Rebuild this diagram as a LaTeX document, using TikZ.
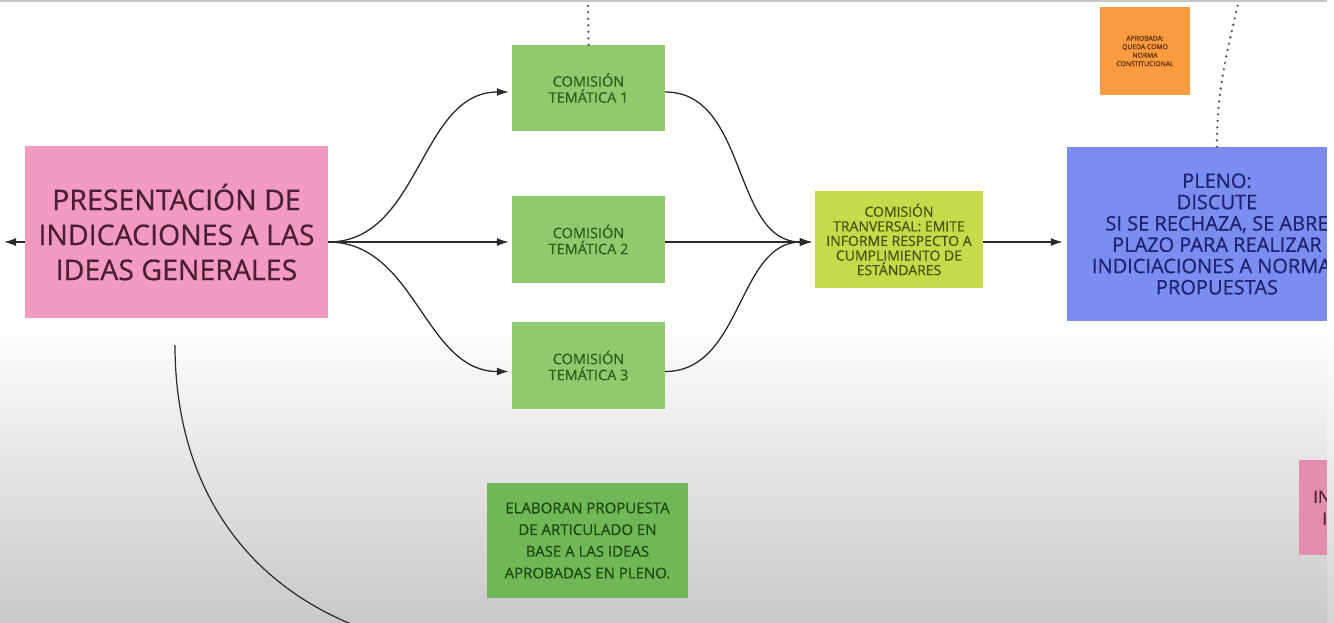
\documentclass[tikz,border=0pt]{standalone}
\usepackage{fontspec}
\setmainfont{Open Sans}[FakeBold=0.6]
\usetikzlibrary{arrows.meta}
\definecolor{pinkbox}{HTML}{F29AC0}
\definecolor{pinktext}{HTML}{4A1F33}
\definecolor{greenbox}{HTML}{8FCB6E}
\definecolor{greentext}{HTML}{2F5E1B}
\definecolor{limebox}{HTML}{C8D94A}
\definecolor{limetext}{HTML}{4A5212}
\definecolor{bluebox}{HTML}{7C8DF0}
\definecolor{bluetext}{HTML}{1C2370}
\definecolor{orangebox}{HTML}{FA9B40}
\definecolor{orangetext}{HTML}{5A3010}
\definecolor{dgreenbox}{HTML}{6FB757}
\definecolor{dgreentext}{HTML}{1E4A12}
\definecolor{pink2box}{HTML}{E48DB1}
\definecolor{bggray}{HTML}{C9C9C9}
\definecolor{linecol}{HTML}{2A2A2A}
\tikzset{
  card/.style={rectangle, inner sep=0pt, align=center},
  conn/.style={draw=linecol, line width=1.3pt, -{Latex[length=12pt,width=8pt]}},
  dotline/.style={line width=2.6pt, line cap=round, dash pattern=on 0pt off 6.5pt, gray!70!black},
}
\begin{document}
\begin{tikzpicture}[x=1pt,y=-1pt]
\useasboundingbox (0,0) rectangle (1334,622);
\fill[white] (0,0) rectangle (1334,622);
\shade[top color=white, bottom color=bggray] (0,320) rectangle (1334,622);
\draw[gray!45, line width=2pt] (0,1) -- (1334,1);

% boxes
\node[card, fill=pinkbox, minimum width=303pt, minimum height=172pt, text=pinktext,
  font=\fontsize{28.5}{35}\selectfont] (pres) at (176.5,232)
  {PRESENTACIÓN DE\\INDICACIONES A LAS\\IDEAS GENERALES};
\node[card, fill=greenbox, minimum width=153pt, minimum height=86pt, text=greentext,
  font=\fontsize{14.5}{16}\selectfont] (c1) at (588.5,88) {COMISIÓN\\TEMÁTICA 1};
\node[card, fill=greenbox, minimum width=153pt, minimum height=87pt, text=greentext,
  font=\fontsize{14.5}{16}\selectfont] (c2) at (588.5,239.5) {COMISIÓN\\TEMÁTICA 2};
\node[card, fill=greenbox, minimum width=153pt, minimum height=87pt, text=greentext,
  font=\fontsize{14.5}{16}\selectfont] (c3) at (588.5,365.5) {COMISIÓN\\TEMÁTICA 3};
\node[card, fill=limebox, minimum width=168pt, minimum height=97pt, text=limetext,
  font=\fontsize{14}{14.6}\selectfont] (tr) at (899,239.5)
  {COMISIÓN\\TRANVERSAL: EMITE\\INFORME RESPECTO A\\CUMPLIMIENTO DE\\ESTÁNDARES};
\node[card, fill=bluebox, minimum width=300pt, minimum height=174pt, text=bluetext,
  font=\fontsize{20}{21.3}\selectfont] (pleno) at (1217,234)
  {PLENO:\\DISCUTE\\SI SE RECHAZA, SE ABRE\\PLAZO PARA REALIZAR\\INDICIACIONES A NORMA\hphantom{S}\\PROPUESTAS};
\node[card, fill=orangebox, minimum width=90pt, minimum height=88pt, text=orangetext,
  font=\fontsize{6.8}{8.5}\selectfont] (apr) at (1145,51)
  {APROBADA:\\QUEDA COMO\\NORMA\\CONSTITUCIONAL};
\node[card, fill=dgreenbox, minimum width=201pt, minimum height=115pt, text=dgreentext,
  font=\fontsize{15}{21.7}\selectfont] (elab) at (587.5,540.5)
  {ELABORAN PROPUESTA\\DE ARTICULADO EN\\BASE A LAS IDEAS\\APROBADAS EN PLENO.};
\node[card, fill=pink2box, minimum width=60pt, minimum height=95pt, anchor=north west,
  text=pinktext, font=\fontsize{17}{22}\selectfont, align=left, text width=50pt] (ind) at (1299,460)
  {\hspace*{9pt}IN\\\hspace*{18pt}I};

% connectors
\coordinate (lft) at (4,242);
\draw[conn] ([yshift=-10pt]pres.west) -- (lft);
\draw[conn, shorten >=3pt] ([yshift=-10pt]pres.east) to[out=0,in=180] ([yshift=-4pt]c1.west);
\draw[conn, shorten >=3pt] ([yshift=-10pt]pres.east) -- ([yshift=-2.5pt]c2.west);
\draw[conn, shorten >=3pt] ([yshift=-10pt]pres.east) to[out=0,in=180] ([yshift=-6pt]c3.west);
\draw[conn, shorten >=3pt] ([yshift=-4pt]c1.east) to[out=0,in=180] ([yshift=-2.5pt]tr.west);
\draw[conn, shorten >=3pt] ([yshift=-2.5pt]c2.east) -- ([yshift=-2.5pt]tr.west);
\draw[conn, shorten >=3pt] ([yshift=-6pt]c3.east) to[out=0,in=180] ([yshift=-2.5pt]tr.west);
\draw[conn, shorten >=4pt] ([yshift=-2.5pt]tr.east) -- ([yshift=-8pt]pleno.west);

% dotted links and arc
\coordinate (ctop) at (588,0);
\draw[dotline] (c1.north) -- (ctop);
\coordinate (rtop) at (1238,4);
\draw[dotline] (pleno.north) .. controls (1216,90) and (1230,40) .. (rtop);
\coordinate (arcS) at (175,345);
\coordinate (arcE) at (356,626);
\draw[linecol, line width=1.2pt] (arcS) .. controls (175,480) and (240,580) .. (arcE);

% screen edge strip
\fill[white] (1327,0) rectangle (1334,330);
\shade[top color=white, bottom color=bggray!80] (1327,330) rectangle (1334,622);
\end{tikzpicture}
\end{document}
